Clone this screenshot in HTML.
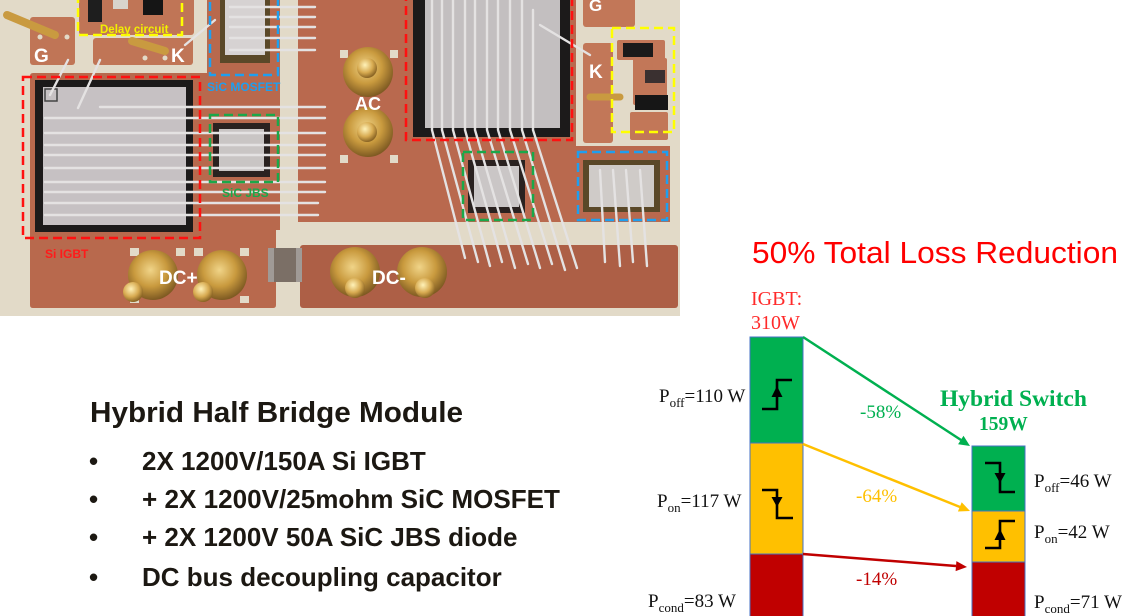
<!DOCTYPE html>
<html><head><meta charset="utf-8"><style>
html,body{margin:0;padding:0;background:#fff;}
svg{display:block;}
</style></head><body>
<svg width="1140" height="616" viewBox="0 0 1140 616" xmlns="http://www.w3.org/2000/svg">
<defs>
<radialGradient id="gold" cx="45%" cy="40%" r="60%">
<stop offset="0" stop-color="#f0d488"/><stop offset="0.55" stop-color="#c99a3e"/><stop offset="1" stop-color="#7e5a22"/>
</radialGradient>
<radialGradient id="post" cx="40%" cy="35%" r="65%">
<stop offset="0" stop-color="#fff2b8"/><stop offset="0.6" stop-color="#d7aa50"/><stop offset="1" stop-color="#8a6424"/>
</radialGradient>
</defs>
<rect width="1140" height="616" fill="#fff"/>

<!-- ===== PHOTO ===== -->
<rect x="0" y="0" width="680" height="316" fill="#e2dac8"/>
<path d="M33,73 H207 V0 H280 V230 H276 V305 Q276,308 273,308 H33 Q30,308 30,305 V76 Q30,73 33,73Z" fill="#b8694d"/>
<rect x="30" y="17" width="45" height="48" rx="3" fill="#c07556"/>
<rect x="79" y="-4" width="115" height="39" rx="3" fill="#c07556"/>
<rect x="93" y="38" width="100" height="27" rx="3" fill="#c07556"/>
<path d="M298,0 H576 V146 H670 V222 H298 Z" fill="#b9694e"/>
<rect x="300" y="245" width="378" height="63" rx="3" fill="#ad5f46"/>
<rect x="583" y="-3" width="52" height="30" rx="3" fill="#c27758"/>
<rect x="583" y="43" width="30" height="100" rx="3" fill="#c27758"/>
<rect x="617" y="40" width="48" height="20" rx="2" fill="#c27758"/>
<rect x="633" y="58" width="34" height="47" rx="2" fill="#c27758"/>
<rect x="630" y="112" width="38" height="28" rx="2" fill="#c27758"/>
<g fill="#e2dac8">
<rect x="130" y="248" width="9" height="8"/><rect x="176" y="248" width="9" height="8"/><rect x="194" y="248" width="9" height="8"/><rect x="240" y="248" width="9" height="8"/>
<rect x="130" y="296" width="9" height="7"/><rect x="240" y="296" width="9" height="7"/>
<rect x="340" y="50" width="8" height="8"/><rect x="390" y="50" width="8" height="8"/><rect x="340" y="155" width="8" height="8"/><rect x="390" y="155" width="8" height="8"/>
<circle cx="40" cy="37" r="2.5"/><circle cx="67" cy="37" r="2.5"/><circle cx="145" cy="58" r="2.5"/><circle cx="165" cy="58" r="2.5"/>
</g>
<rect x="88" y="0" width="14" height="22" fill="#1e1e1e"/>
<rect x="113" y="0" width="15" height="9" fill="#d8d4cc"/>
<rect x="143" y="0" width="20" height="15" fill="#151515"/>
<rect x="623" y="43" width="30" height="14" fill="#1a1a1a"/>
<rect x="645" y="70" width="20" height="13" fill="#3a3030"/>
<rect x="635" y="95" width="33" height="15" fill="#161616"/>
<rect x="268" y="248" width="34" height="34" rx="2" fill="#7b6f66"/>
<rect x="268" y="248" width="6" height="34" fill="#a09a96"/><rect x="296" y="248" width="6" height="34" fill="#a09a96"/>

<rect x="35" y="80" width="158" height="152" fill="#1c1a1a"/>
<rect x="43" y="87" width="143" height="138" fill="#c6c1c3"/>
<rect x="45" y="89" width="12" height="12" fill="none" stroke="#444" stroke-width="1.5"/>
<rect x="220" y="0" width="50" height="63" fill="#5a4828"/>
<rect x="225" y="0" width="40" height="55" fill="#d6d2d2"/>
<rect x="213" y="123" width="57" height="54" fill="#2a2220"/>
<rect x="219" y="129" width="45" height="42" fill="#c9c5c4"/>
<rect x="413" y="0" width="157" height="137" fill="#1c1a1a"/>
<rect x="425" y="0" width="135" height="128" fill="#c3bfc0"/>
<rect x="468" y="160" width="57" height="53" fill="#2a2220"/>
<rect x="474" y="166" width="45" height="41" fill="#cac6c6"/>
<rect x="583" y="160" width="77" height="52" fill="#5a4828"/>
<rect x="589" y="165" width="65" height="42" fill="#cfcbc8"/>

<g stroke="#e4e2e2" stroke-width="2.4" fill="none" stroke-linecap="round">
<path d="M100,107 H325"/><path d="M45,118 H325"/><path d="M45,133 H325"/><path d="M45,145 H325"/><path d="M45,155 H325"/>
<path d="M45,168 H325"/><path d="M45,182 H325"/><path d="M45,192 H325"/><path d="M45,203 H318"/><path d="M45,215 H318"/>
<path d="M230,7 H315"/><path d="M230,17 H315"/><path d="M230,27 H315"/><path d="M230,38 H315"/><path d="M230,50 H315"/>
<path d="M68,60 L50,95"/><path d="M100,60 L78,108"/><path d="M185,45 L215,20"/>
<path d="M432,0 V130 L465,258"/><path d="M442,0 V130 L478,262"/><path d="M453,0 V130 L490,266"/><path d="M465,0 V130 L502,262"/>
<path d="M475,0 V130 L515,268"/><path d="M487,0 V130 L528,264"/><path d="M498,0 V130 L540,268"/><path d="M510,0 V130 L552,264"/>
<path d="M522,0 V130 L565,270"/><path d="M533,10 V130 L577,268"/>
<path d="M600,170 L605,262"/><path d="M613,170 L620,266"/><path d="M626,170 L633,262"/><path d="M640,170 L647,266"/>
<path d="M590,55 L540,25"/>
</g>
<g stroke-linecap="round">
<line x1="7" y1="15" x2="55" y2="35" stroke="#c99a40" stroke-width="8"/>
<line x1="132" y1="41" x2="165" y2="51" stroke="#c99a40" stroke-width="8"/>
<line x1="590" y1="97" x2="620" y2="97" stroke="#c99a40" stroke-width="7"/>
</g>
<g>
<circle cx="368" cy="72" r="25" fill="url(#gold)"/><circle cx="367" cy="68" r="10" fill="url(#post)"/>
<circle cx="368" cy="132" r="25" fill="url(#gold)"/><circle cx="367" cy="132" r="10" fill="url(#post)"/>
<circle cx="153" cy="275" r="25" fill="url(#gold)"/><circle cx="133" cy="292" r="10" fill="url(#post)"/>
<circle cx="222" cy="275" r="25" fill="url(#gold)"/><circle cx="203" cy="292" r="10" fill="url(#post)"/>
<circle cx="355" cy="272" r="25" fill="url(#gold)"/><circle cx="355" cy="288" r="10" fill="url(#post)"/>
<circle cx="422" cy="272" r="25" fill="url(#gold)"/><circle cx="425" cy="288" r="10" fill="url(#post)"/>
</g>
<g fill="none" stroke-width="2.5" stroke-dasharray="9,5">
<rect x="78" y="-5" width="104" height="40" stroke="#ffff00"/>
<rect x="210" y="-5" width="68" height="80" stroke="#1e9fef"/>
<rect x="23" y="77" width="177" height="161" stroke="#ff1010"/>
<rect x="210" y="115" width="68" height="67" stroke="#1aa84a"/>
<rect x="406" y="-5" width="166" height="145" stroke="#ff1010"/>
<rect x="463" y="152" width="70" height="68" stroke="#1aa84a"/>
<rect x="578" y="152" width="89" height="68" stroke="#1e9fef"/>
<rect x="612" y="28" width="62" height="104" stroke="#ffff00"/>
</g>
<g font-family="'Liberation Sans', sans-serif" font-weight="bold">
<text x="34" y="62" font-size="19" fill="#fff">G</text>
<text x="171" y="62" font-size="19" fill="#fff">K</text>
<text x="589" y="11" font-size="17" fill="#fff">G</text>
<text x="589" y="78" font-size="19" fill="#fff">K</text>
<text x="355" y="110" font-size="18" fill="#fff">AC</text>
<text x="159" y="284" font-size="19" fill="#fff">DC+</text>
<text x="372" y="284" font-size="19" fill="#fff">DC-</text>
<text x="100" y="33" font-size="11.5" fill="#f2f000">Delay circuit</text>
<text x="207" y="91" font-size="12" fill="#1e9fef">SiC MOSFET</text>
<text x="222" y="197" font-size="12" fill="#1aa84a">SiC JBS</text>
<text x="45" y="258" font-size="12" fill="#ff1a1a">Si IGBT</text>
</g>

<!-- ===== LEFT TEXT ===== -->
<g font-family="'Liberation Sans', sans-serif" font-weight="bold" fill="#1c1812">
<text x="90" y="422" font-size="29" textLength="373" lengthAdjust="spacingAndGlyphs">Hybrid Half Bridge Module</text>
<g font-size="26">
<text x="89" y="470">•</text><text x="142" y="470">2X 1200V/150A Si IGBT</text>
<text x="89" y="508">•</text><text x="142" y="508" textLength="418" lengthAdjust="spacingAndGlyphs">+ 2X 1200V/25mohm SiC MOSFET</text>
<text x="89" y="546">•</text><text x="142" y="546">+ 2X 1200V 50A SiC JBS diode</text>
<text x="89" y="586">•</text><text x="142" y="586">DC bus decoupling capacitor</text>
</g>
</g>

<!-- ===== CHART ===== -->
<text x="752" y="263" font-family="'Liberation Sans', sans-serif" font-size="31" fill="#ff0000" textLength="366" lengthAdjust="spacingAndGlyphs">50% Total Loss Reduction</text>
<g font-family="'Liberation Serif', serif">
<text x="751" y="305" font-size="20" fill="#ff2a2a">IGBT:</text>
<text x="751" y="329" font-size="20" fill="#ff2a2a">310W</text>
<text x="940" y="406" font-size="23.5" font-weight="bold" fill="#00b050">Hybrid Switch</text>
<text x="979" y="430" font-size="19.5" font-weight="bold" fill="#00b050">159W</text>
<text x="860" y="418" font-size="19" fill="#00b050">-58%</text>
<text x="856" y="502" font-size="19" fill="#ffc000">-64%</text>
<text x="856" y="585" font-size="19" fill="#c00000">-14%</text>
</g>
<g stroke="#4472c4" stroke-width="1">
<rect x="750" y="337" width="53" height="106" fill="#00b050"/>
<rect x="750" y="443" width="53" height="111" fill="#ffc000"/>
<rect x="750" y="554" width="53" height="70" fill="#c00000"/>
<rect x="972" y="446" width="53" height="65" fill="#00b050"/>
<rect x="972" y="511" width="53" height="51" fill="#ffc000"/>
<rect x="972" y="562" width="53" height="60" fill="#c00000"/>
</g>
<line x1="803" y1="337" x2="961" y2="440" stroke="#00b050" stroke-width="2.5"/>
<polygon points="970,446 963.5,435.8 958.1,444.2" fill="#00b050"/>
<line x1="803" y1="444" x2="960" y2="507" stroke="#ffc000" stroke-width="2.5"/>
<polygon points="970,511 961.7,502.3 957.9,511.5" fill="#ffc000"/>
<line x1="803" y1="554" x2="956" y2="566" stroke="#c00000" stroke-width="2.5"/>
<polygon points="967,567 956.4,561.1 955.6,571.1" fill="#c00000"/>
<g fill="none" stroke="#000" stroke-width="2.6">
<polyline points="762,409 777,409 777,380 792,380"/>
<polyline points="762,490 777,490 777,518 793,518"/>
<polyline points="985,463 1000,463 1000,492 1015,492"/>
<polyline points="985,548 1000,548 1000,521 1015,521"/>
</g>
<g fill="#000">
<polygon points="777,386 771.5,397 782.5,397"/>
<polygon points="771.5,497 782.5,497 777,507"/>
<polygon points="994.5,473 1005.5,473 1000,483"/>
<polygon points="1000,529 994.5,540 1005.5,540"/>
</g>
<g font-family="'Liberation Serif', serif" font-size="19" fill="#111">
<text x="659" y="402">P<tspan font-size="13" dy="5">off</tspan><tspan dy="-5">=110 W</tspan></text>
<text x="657" y="507">P<tspan font-size="13" dy="5">on</tspan><tspan dy="-5">=117 W</tspan></text>
<text x="648" y="607">P<tspan font-size="13" dy="5">cond</tspan><tspan dy="-5">=83 W</tspan></text>
<text x="1034" y="487">P<tspan font-size="13" dy="5">off</tspan><tspan dy="-5">=46 W</tspan></text>
<text x="1034" y="538">P<tspan font-size="13" dy="5">on</tspan><tspan dy="-5">=42 W</tspan></text>
<text x="1034" y="608">P<tspan font-size="13" dy="5">cond</tspan><tspan dy="-5">=71 W</tspan></text>
</g>
</svg>
</body></html>
